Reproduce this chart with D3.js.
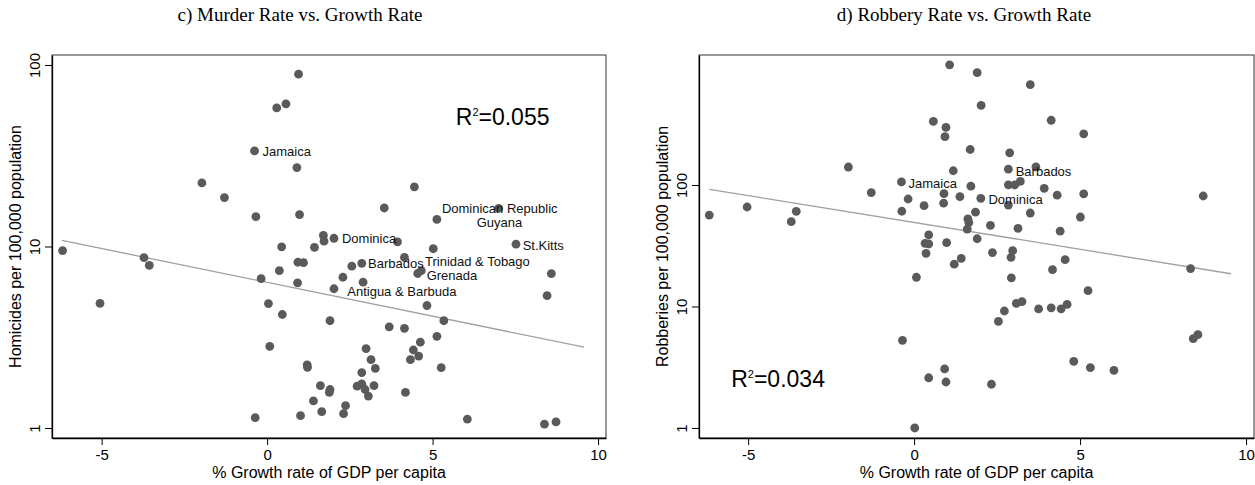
<!DOCTYPE html>
<html>
<head>
<meta charset="utf-8">
<script src="https://cdn.jsdelivr.net/npm/d3@7"></script>
<style>
  body { margin: 0; background: #fff; }
  svg { display: block; font-family: "Liberation Sans", Arial, sans-serif; }
</style>
</head>
<body>
<svg id="chart" width="1255" height="485"></svg>
<script>
// c) murder: growth rate of GDP per capita (%) vs homicides per 100,000
const murderGrowth = [0.95, 0.29, 0.57, -0.38, 0.90, -1.97, -1.29, -0.34, 0.98, -6.18,
  0.44, 1.43, 4.45, 3.54, 7.0, 5.13, 1.70, 1.72, 2.02, 3.94,
  5.02, 7.52, 4.15, 0.93, 1.10, 0.37, -0.18, 0.92, 2.56, 2.86,
  4.55, 4.66, 2.29, 2.90, 2.02, 8.59, 8.46, 4.83, 0.04, 0.46,
  -5.05, -3.72, -3.56, 1.90, 5.34, 3.69, 4.15, 5.13, 0.08, 2.99,
  4.63, 4.42, 3.14, 4.33, 4.58, 3.27, 5.26, 1.21, 1.22, 2.86,
  1.61, 1.90, 1.88, 2.72, 2.86, 2.96, 3.06, 3.23, 4.18, 1.40,
  1.65, 2.37, 2.31, -0.36, 1.01, 6.05, 8.38, 8.73];
const murderRate = [89, 58, 61, 33.6, 27.2, 22.4, 18.6, 14.6, 15.0, 9.5,
  9.96, 9.9, 21.3, 16.3, 16.2, 14.1, 11.5, 10.7, 11.1, 10.6,
  9.72, 10.3, 8.7, 8.19, 8.14, 7.36, 6.65, 6.31, 7.79, 8.08,
  7.10, 7.36, 6.77, 6.36, 5.85, 7.08, 5.36, 4.73, 4.85, 4.22,
  4.86, 8.68, 7.88, 3.90, 3.90, 3.61, 3.54, 3.20, 2.82, 2.74,
  2.97, 2.69, 2.38, 2.38, 2.49, 2.13, 2.15, 2.23, 2.16, 2.02,
  1.71, 1.63, 1.57, 1.70, 1.75, 1.63, 1.50, 1.71, 1.57, 1.41,
  1.23, 1.33, 1.20, 1.14, 1.17, 1.12, 1.05, 1.08];
const murderFitGrowth = [-6.2, 9.58];
const murderFitRate = [10.8, 2.79];
const murderLabels = [
  { name: "Jamaica", growth: -0.38, rate: 33.6 },
  { name: "Dominican Republic", growth: 5.04, rate: 16.3 },
  { name: "Guyana", growth: 6.09, rate: 13.6 },
  { name: "St.Kitts", growth: 7.48, rate: 10.2 },
  { name: "Dominica", growth: 2.02, rate: 11.1 },
  { name: "Barbados", growth: 2.81, rate: 8.11 },
  { name: "Trinidad & Tobago", growth: 4.53, rate: 8.37 },
  { name: "Grenada", growth: 4.58, rate: 7.01 },
  { name: "Antigua & Barbuda", growth: 2.18, rate: 5.69 }
];
const murderR2 = { text: "0.055", growth: 5.70, rate: 46.7 };

// d) robbery: growth rate of GDP per capita (%) vs robberies per 100,000
const robberyGrowth = [-6.17, -5.03, -3.55, -3.70, -1.98, -1.29, -0.38, -0.18, -0.37, 0.30,
  0.90, 0.89, 0.58, 0.96, 0.93, 1.07, 0.44, 0.33, 0.44, 0.36,
  0.98, 1.90, 3.50, 2.02, 4.13, 5.11, 1.69, 2.88, 1.18, 2.84,
  3.67, 2.84, 3.03, 3.20, 1.71, 3.92, 1.38, 2.01, 2.84, 4.31,
  5.11, 8.71, 1.85, 3.50, 5.01, 1.62, 1.65, 1.60, 2.30, 3.13,
  4.40, 1.90, 2.36, 2.97, 2.92, 1.42, 1.21, 4.55, 0.07, 2.93,
  4.17, 5.24, 3.08, 3.25, 2.72, 2.54, 3.75, 4.13, 4.43, 4.61,
  -0.35, 0.92, 0.44, 0.96, 2.33, 4.81, 5.31, 6.02, 0.02, 8.33,
  8.41, 8.55];
const robberyRate = [56.6, 65.9, 60.7, 49.9, 140.6, 86.7, 106, 76.7, 60.8, 67.6,
  84.8, 70.8, 334, 298, 250, 975, 38.8, 33.1, 32.7, 27.4,
  33.5, 840, 669, 453, 341, 264, 196, 184, 131, 135,
  141, 100.4, 100, 107, 97.8, 93.9, 80.1, 77.7, 68.4, 82.4,
  84.6, 81.2, 59.7, 58.8, 54.5, 52.7, 49.1, 43.3, 46.6, 44.0,
  41.7, 36.1, 27.8, 28.8, 25.4, 24.9, 22.3, 24.3, 17.4, 17.2,
  20.1, 13.5, 10.6, 10.96, 9.18, 7.55, 9.54, 9.75, 9.57, 10.4,
  5.27, 3.06, 2.59, 2.39, 2.29, 3.54, 3.14, 2.98, 1.0, 20.5,
  5.43, 5.86];
const robberyFitGrowth = [-6.17, 9.55];
const robberyFitRate = [92.2, 18.6];
const robberyLabels = [
  { name: "Jamaica", growth: -0.41, rate: 104 },
  { name: "Barbados", growth: 2.82, rate: 130 },
  { name: "Dominica", growth: 2.00, rate: 76.7 }
];
const robberyR2 = { text: "0.034", growth: -5.51, rate: 2.19 };

const xTicks = [-5, 0, 5, 10];
const yTicks = [1, 10, 100];

const svg = d3.select("#chart");

function drawPanel(cfg) {
  const x = d3.scaleLinear().domain(cfg.xDomain).range([cfg.left, cfg.right]);
  const y = d3.scaleLog().domain(cfg.yDomain).range([cfg.bottom, cfg.top]);
  const g = svg.append("g");

  // title
  g.append("text")
    .attr("x", cfg.titleX)
    .attr("y", 21)
    .attr("text-anchor", "middle")
    .style("font-family", "'Liberation Serif', 'Times New Roman', serif")
    .style("font-size", "19px")
    .text(cfg.title);

  // plot region border
  g.append("rect")
    .attr("x", cfg.left)
    .attr("y", cfg.top)
    .attr("width", cfg.right - cfg.left)
    .attr("height", cfg.bottom - cfg.top)
    .attr("fill", "none")
    .attr("stroke", "#333")
    .attr("stroke-width", 1);

  // x axis (plain hyphen for negatives, as in the original)
  const xAxis = g.append("g")
    .attr("transform", `translate(0,${cfg.bottom})`)
    .call(d3.axisBottom(x).tickValues(xTicks).tickSize(7).tickSizeOuter(0).tickFormat((d) => String(d)));
  xAxis.select(".domain").attr("stroke", "#000").attr("stroke-width", 1.3);
  xAxis.selectAll(".tick line").attr("stroke", "#000");
  xAxis.selectAll(".tick text")
    .attr("y", 11)
    .style("font-size", "15px")
    .attr("fill", "#000");

  // y axis, rotated labels
  const yAxis = g.append("g")
    .attr("transform", `translate(${cfg.left},0)`)
    .call(d3.axisLeft(y).tickValues(yTicks).tickSize(7).tickSizeOuter(0).tickFormat((d) => String(d)));
  yAxis.select(".domain").attr("stroke", "#000").attr("stroke-width", 1.3);
  yAxis.selectAll(".tick line").attr("stroke", "#000");
  yAxis.selectAll(".tick text")
    .attr("x", null)
    .attr("dy", null)
    .attr("text-anchor", "middle")
    .attr("transform", "translate(-12,0) rotate(-90)")
    .style("font-size", "15px")
    .attr("fill", "#000");

  // axis titles
  g.append("text")
    .attr("x", (cfg.left + cfg.right) / 2)
    .attr("y", 478)
    .attr("text-anchor", "middle")
    .style("font-size", "16px")
    .text("% Growth rate of GDP per capita");

  g.append("text")
    .attr("transform", `translate(${cfg.yTitleX},${(cfg.top + cfg.bottom) / 2}) rotate(-90)`)
    .attr("text-anchor", "middle")
    .style("font-size", "16px")
    .text(cfg.yTitle);

  // fitted line
  const fit = cfg.fitGrowth.map((d, i) => [d, cfg.fitRate[i]]);
  g.append("path")
    .datum(fit)
    .attr("fill", "none")
    .attr("stroke", "#a0a0a0")
    .attr("stroke-width", 1.3)
    .attr("d", d3.line().x((d) => x(d[0])).y((d) => y(d[1])));

  // points
  const pts = cfg.growth.map((d, i) => ({ growth: d, rate: cfg.rate[i] }));
  g.selectAll(".dot")
    .data(pts)
    .enter()
    .append("circle")
    .classed("dot", true)
    .attr("cx", (d) => x(d.growth))
    .attr("cy", (d) => y(d.rate))
    .attr("r", 4.4)
    .attr("fill", "#5a5a5a");

  // country labels, to the right of the marker
  g.selectAll(".lbl")
    .data(cfg.labels)
    .enter()
    .append("text")
    .classed("lbl", true)
    .attr("x", (d) => x(d.growth) + 8)
    .attr("y", (d) => y(d.rate) + 5)
    .style("font-size", "13px")
    .attr("fill", "#111")
    .text((d) => d.name);

  // R squared
  const r2 = g.append("text")
    .attr("x", x(cfg.r2.growth))
    .attr("y", y(cfg.r2.rate))
    .style("font-size", "23px")
    .attr("fill", "#000");
  r2.append("tspan").text("R");
  r2.append("tspan").attr("dy", -9).style("font-size", "11px").text("2");
  r2.append("tspan").attr("dy", 9).text("=" + cfg.r2.text);
}

drawPanel({
  title: "c) Murder Rate vs. Growth Rate",
  titleX: 300,
  yTitle: "Homicides per 100,000 population",
  yTitleX: 21,
  left: 52, right: 606, top: 55, bottom: 438,
  xDomain: [-6.5, 10.24],
  yDomain: [0.881, 113.5],
  growth: murderGrowth,
  rate: murderRate,
  fitGrowth: murderFitGrowth,
  fitRate: murderFitRate,
  labels: murderLabels,
  r2: murderR2
});

drawPanel({
  title: "d) Robbery Rate vs. Growth Rate",
  titleX: 964,
  yTitle: "Robberies per 100,000 population",
  yTitleX: 668,
  left: 699, right: 1254, top: 55, bottom: 438,
  xDomain: [-6.48, 10.24],
  yDomain: [0.827, 1175],
  growth: robberyGrowth,
  rate: robberyRate,
  fitGrowth: robberyFitGrowth,
  fitRate: robberyFitRate,
  labels: robberyLabels,
  r2: robberyR2
});
</script>
</body>
</html>
